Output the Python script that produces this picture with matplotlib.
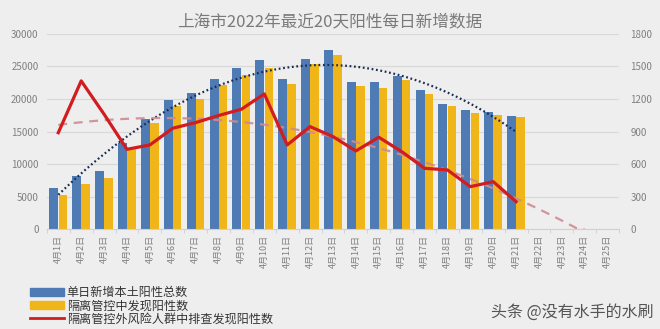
import numpy as np
import matplotlib
matplotlib.use("Agg")
import matplotlib.pyplot as plt
from matplotlib.patches import Patch
from matplotlib.lines import Line2D

plt.rcParams['font.family'] = ['Noto Sans CJK SC', 'DejaVu Sans']

categories = [f"4月{d}日" for d in range(1, 26)]
total_pos = [6300, 8200, 8900, 13300, 17000, 19900, 20950, 23150, 24700, 25950,
             23000, 26200, 27600, 22650, 22550, 23500, 21350, 19300, 18300, 18050, 17400]
in_control = [5300, 6900, 7950, 12400, 16250, 19000, 19950, 22150, 23650, 24700,
              22300, 25350, 26700, 22000, 21650, 22900, 20750, 18900, 17900, 17550, 17200]
screening = [890, 1367, 1060, 737, 777, 931, 983, 1048, 1106, 1247,
             777, 946, 854, 722, 848, 716, 562, 547, 393, 439, 255]

title = "上海市2022年最近20天阳性每日新增数据"
labels = ["单日新增本土阳性总数", "隔离管控中发现阳性数", "隔离管控外风险人群中排查发现阳性数"]
watermark = "头条 @没有水手的水刷"

bg = '#eeeeee'
blue = '#4f7bb5'
yellow = '#f0b619'
red = '#d11c20'
grid_c = '#d8d8d8'
tick_c = '#808080'

fig = plt.figure(figsize=(6.6, 3.29), dpi=100, facecolor=bg)
ax = fig.add_axes([0.071, 0.303, 0.867, 0.594])
ax.set_facecolor(bg)
ax2 = ax.twinx()

n = len(total_pos)
x = np.arange(n)
w = 0.39
ax.bar(x - w / 2, total_pos, width=w, color=blue, zorder=2)
ax.bar(x + w / 2, in_control, width=w * 0.95, color=yellow, zorder=2)

# polynomial trend of total positives (order 2)
c1 = np.polyfit(x, total_pos, 2)
xt = np.linspace(0, n - 1, 200)
ax.plot(xt, np.polyval(c1, xt), color='#1c2b55', lw=1.6, ls=(0, (0.8, 1.2)), zorder=4)

ax.set_xlim(-0.5, len(categories) - 0.5)
ax.set_ylim(0, 30000)
ax.set_yticks(range(0, 30001, 5000))
ax.set_xticks(range(len(categories)))
ax.set_xticklabels(categories, rotation=90, fontsize=6.5, color=tick_c)
ax.tick_params(axis='x', length=0, pad=4)
ax.set_xticks(np.arange(-0.5, len(categories), 1), minor=True)
ax.tick_params(axis='x', which='minor', length=3, color='#d0d0d0')
ax.tick_params(axis='y', length=0, labelsize=7, labelcolor=tick_c, pad=6)
ax.grid(axis='y', color=grid_c, lw=0.8, zorder=0)
ax.set_axisbelow(True)
for s in ['top', 'left', 'right']:
    ax.spines[s].set_visible(False)
ax.spines['bottom'].set_color('#d0d0d0')

# risk screening line and its trend (forecast 3 periods)
xs = np.arange(len(screening))
c2 = np.polyfit(xs, screening, 2)
xt2 = np.linspace(0, len(screening) - 1 + 3, 200)
yt2 = np.clip(np.polyval(c2, xt2), 0, None)
ax2.plot(xt2, yt2, color='#cf8a92', lw=1.6, ls=(0, (4, 3)), zorder=3, alpha=0.9)
ax2.plot(xs, screening, color=red, lw=2.3, zorder=5)
ax2.set_ylim(0, 1800)
ax2.set_yticks(range(0, 1801, 300))
ax2.tick_params(axis='y', length=0, labelsize=7, labelcolor=tick_c, pad=8)
for s in ['top', 'left', 'right', 'bottom']:
    ax2.spines[s].set_visible(False)

fig.text(0.5, 0.935, title, ha='center', va='center', fontsize=12, color='#7a7a7a')

handles = [Patch(color=blue), Patch(color=yellow), Line2D([0], [0], color=red, lw=2)]
fig.legend(handles, labels, loc='upper left', bbox_to_anchor=(0.037, 0.148),
           frameon=False, fontsize=8.7, labelspacing=0.0, handlelength=2.8,
           handleheight=0.6, handletextpad=0.2, borderpad=0, labelcolor='#333333')

fig.text(0.99, 0.05, watermark, ha='right', va='center', fontsize=11.5, color='#555555')

fig.savefig('out.png', dpi=100, facecolor=bg)
